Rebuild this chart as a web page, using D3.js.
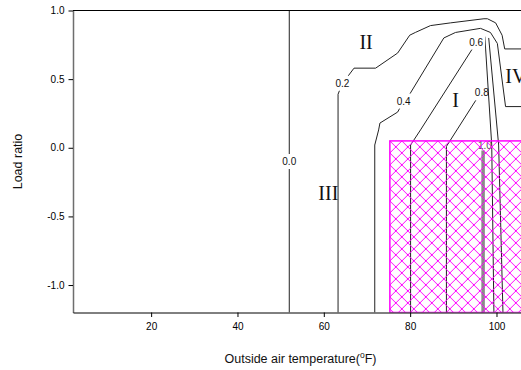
<!DOCTYPE html>
<html>
<head>
<meta charset="utf-8">
<script src="https://cdn.jsdelivr.net/npm/d3@7"></script>
<style>
  html, body { margin: 0; padding: 0; background: #fff; overflow: hidden; }
  svg { display: block; font-family: Arial, "Liberation Sans", sans-serif; }
</style>
</head>
<body>
<svg id="chart" width="521" height="370"></svg>
<script>
// ---- axis ticks and extents ----
const tempTicks = [20, 40, 60, 80, 100];
const loadTicks = [-1.0, -0.5, 0.0, 0.5, 1.0];
const tempRange = [1.9, 107.3];
const loadRange = [-1.2, 1.0];

// ---- contour lines: [outside air temperature (°F), load ratio] ----
const contour00 = [[52.0, -1.2], [52.0, 1.0]];
const contour02 = [[63.3, -1.2], [63.3, 0.39], [64.3, 0.47], [65.8, 0.53], [67.0, 0.58], [72.0, 0.58],
                   [77.1, 0.69], [79.9, 0.82], [81.2, 0.84], [84.7, 0.89], [89.4, 0.91], [97.1, 0.94],
                   [97.9, 0.94], [99.8, 0.91], [101.3, 0.82], [101.9, 0.72], [107.3, 0.72]];
const contour04 = [[71.8, -1.2], [71.8, 0.02], [72.7, 0.13], [73.0, 0.18], [77.1, 0.26], [78.5, 0.34],
                   [79.7, 0.38], [87.8, 0.80], [90.5, 0.84], [96.3, 0.87], [98.6, 0.84], [100.2, 0.76],
                   [102.1, 0.30], [107.3, 0.30]];
const contour06 = [[80.1, -1.2], [80.1, 0.02], [82.4, 0.13], [94.4, 0.72], [95.3, 0.77], [97.3, 0.81],
                   [98.9, 0.02], [99.4, -1.2]];
const contour08a = [[88.4, -1.2], [88.4, 0.01], [95.5, 0.36], [96.6, 0.40]];
const contour08b = [[98.2, 0.80], [100.5, 0.02], [101.5, -1.2]];
const contour10 = [[96.9, -0.02], [96.9, -1.2]];

// contour level labels and where they sit on their lines
const contourLevels = ["0.0", "0.2", "0.4", "0.6", "0.8", "1.0"];
const labelTemp = [52.0, 64.3, 78.5, 95.3, 96.6, 97.3];
const labelLoad = [-0.10, 0.47, 0.34, 0.77, 0.40, 0.02];

// operating regions
const regionNames = ["I", "II", "III", "IV"];
const regionTemp = [90.5, 69.8, 61.05, 104.5];
const regionLoad = [0.30, 0.72, -0.38, 0.47];

// cross-hatched design zone
const hatchTemp = [75.3, 107.3];
const hatchLoad = [-1.2, 0.05];

// ---- drawing ----
const svg = d3.select("#chart");
const x = d3.scaleLinear().domain(tempRange).range([73, 528]);
const y = d3.scaleLinear().domain(loadRange).range([312.5, 10.5]);
const line = d3.line().x(d => x(d[0])).y(d => y(d[1]));

const defs = svg.append("defs");
defs.append("clipPath").attr("id", "plotClip")
  .append("rect")
  .attr("x", x(tempRange[0])).attr("y", y(loadRange[1]))
  .attr("width", x(tempRange[1]) - x(tempRange[0]))
  .attr("height", y(loadRange[0]) - y(loadRange[1]));

const pattern = defs.append("pattern")
  .attr("id", "crossHatch")
  .attr("patternUnits", "userSpaceOnUse")
  .attr("x", x(hatchTemp[0])).attr("y", y(hatchLoad[1]))
  .attr("width", 12).attr("height", 12);
pattern.append("path")
  .attr("d", "M-3,-3L15,15M15,-3L-3,15M-3,9L3,15M9,-3L15,3M9,15L15,9M-3,3L3,-3")
  .attr("stroke", "#ff00ff").attr("stroke-width", 1).attr("fill", "none")
  .attr("shape-rendering", "crispEdges");

const plot = svg.append("g").attr("clip-path", "url(#plotClip)");

const contourPaths = [[contour00], [contour02], [contour04], [contour06], [contour08a, contour08b], [contour10]];

// labels first, so their boxes can cut gaps in their own lines
const labelG = plot.append("g").attr("font-size", 10);
const labelNodes = contourLevels.map((lv, i) =>
  labelG.append("text")
    .attr("x", x(labelTemp[i])).attr("y", y(labelLoad[i]))
    .attr("dy", "0.35em")
    .attr("text-anchor", "middle")
    .attr("fill", i === 5 ? "#555" : "#111")
    .text(lv)
    .node());

const lineG = plot.insert("g", ":first-child");
contourPaths.forEach((pieces, i) => {
  const isTop = i === 5;
  let maskRef = null;
  if (!isTop) {
    const b = labelNodes[i].getBBox();
    const m = defs.append("mask").attr("id", "gap" + i)
      .attr("maskUnits", "userSpaceOnUse")
      .attr("x", 0).attr("y", 0).attr("width", 521).attr("height", 370);
    m.append("rect").attr("x", 0).attr("y", 0).attr("width", 521).attr("height", 370).attr("fill", "#fff");
    m.append("rect")
      .attr("x", b.x - 1.5).attr("y", b.y - 2)
      .attr("width", b.width + 3).attr("height", b.height + 4)
      .attr("fill", "#000");
    maskRef = "url(#gap" + i + ")";
  }
  const g = lineG.append("g").attr("mask", maskRef);
  pieces.forEach(p => {
    g.append("path")
      .attr("d", line(p))
      .attr("fill", "none")
      .attr("stroke", isTop ? "#8a8a8a" : "#222")
      .attr("stroke-width", isTop ? 3.5 : 1)
      .attr("stroke-linejoin", "round");
  });
});

// region numerals
plot.append("g")
  .attr("font-family", "'Liberation Serif', 'Times New Roman', serif")
  .attr("font-size", 20)
  .selectAll("text")
  .data(regionNames)
  .join("text")
  .attr("x", (d, i) => x(regionTemp[i]))
  .attr("y", (d, i) => y(regionLoad[i]))
  .attr("text-anchor", "middle")
  .attr("fill", "#111")
  .text(d => d);

// hatched zone on top
plot.append("rect")
  .attr("x", x(hatchTemp[0])).attr("y", y(hatchLoad[1]))
  .attr("width", x(hatchTemp[1]) - x(hatchTemp[0]))
  .attr("height", y(hatchLoad[0]) - y(hatchLoad[1]))
  .attr("fill", "url(#crossHatch)")
  .attr("stroke", "#ff00ff")
  .attr("stroke-width", 1.5);

// ---- axes ----
const yAxis = svg.append("g")
  .attr("transform", `translate(${x(tempRange[0])},0)`)
  .call(d3.axisLeft(y).tickValues(loadTicks).tickFormat(d => d.toFixed(1))
    .tickSize(4.5).tickSizeOuter(0).tickPadding(4));
const xAxis = svg.append("g")
  .attr("transform", `translate(0,${y(loadRange[0])})`)
  .call(d3.axisBottom(x).tickValues(tempTicks).tickFormat(d3.format("d"))
    .tickSize(4.5).tickSizeOuter(0).tickPadding(6));
[yAxis, xAxis].forEach(a => {
  a.attr("font-family", "Arial, 'Liberation Sans', sans-serif").attr("font-size", 10);
  a.selectAll(".tick line").attr("stroke", "#000");
  a.selectAll(".tick text").attr("fill", "#000");
});
yAxis.select("path.domain").attr("stroke", "#6e6e6e").attr("stroke-width", 1.5);
xAxis.select("path.domain").attr("stroke", "#000");

// top frame line
svg.append("line")
  .attr("x1", x(tempRange[0])).attr("x2", x(tempRange[1]))
  .attr("y1", y(loadRange[1])).attr("y2", y(loadRange[1]))
  .attr("stroke", "#000").attr("stroke-width", 1);

// axis titles
const xTitle = svg.append("text")
  .attr("x", (x(tempRange[0]) + x(tempRange[1])) / 2)
  .attr("y", 363)
  .attr("text-anchor", "middle")
  .attr("font-size", 12.5)
  .attr("fill", "#111");
xTitle.append("tspan").text("Outside air temperature(");
xTitle.append("tspan").attr("font-size", 8.5).attr("dy", -5).text("o");
xTitle.append("tspan").attr("dy", 5).text("F)");

svg.append("text")
  .attr("transform", `translate(22,${(y(loadRange[0]) + y(loadRange[1])) / 2}) rotate(-90)`)
  .attr("text-anchor", "middle")
  .attr("font-size", 12.5)
  .attr("fill", "#111")
  .text("Load ratio");
</script>
</body>
</html>
